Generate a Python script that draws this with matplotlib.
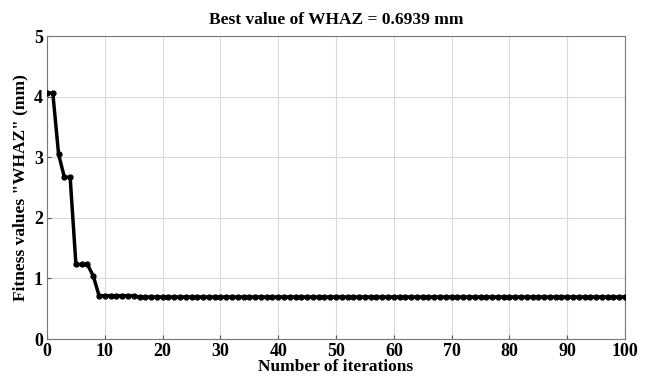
import matplotlib.pyplot as plt
import numpy as np

# fitness history (best WHAZ per iteration)
head = [4.06, 4.06, 3.05, 2.67, 2.67, 1.23, 1.23, 1.23, 1.04, 0.715,
        0.715, 0.715, 0.715, 0.715, 0.715, 0.712]
tail_value = 0.6939
iterations = list(range(0, 101))
fitness = head + [tail_value] * (len(iterations) - len(head))

plt.rcParams['font.family'] = ['Liberation Serif', 'DejaVu Serif']
plt.rcParams['font.weight'] = 'bold'

fig = plt.figure(figsize=(6.46, 3.76), dpi=100)
ax = fig.add_axes([0.0728, 0.0984, 0.8947, 0.8056])

ax.plot(iterations, fitness, color='black', lw=2.5, marker='o', ms=3.5, zorder=3)

ax.set_xlim(0, 100)
ax.set_ylim(0, 5)
ax.set_xticks(np.arange(0, 101, 10))
ax.set_yticks(np.arange(0, 6, 1))
ax.grid(True, color='#d9d9d9', lw=0.8)
ax.tick_params(direction='in', labelsize=13, length=3, color='#555555', pad=3)
for lab in ax.get_xticklabels() + ax.get_yticklabels():
    lab.set_fontweight('bold')
for s in ax.spines.values():
    s.set_linewidth(0.8)
    s.set_color('#777777')

ax.set_xlabel('Number of iterations', fontsize=12.5, fontweight='bold', labelpad=-1)
ax.set_ylabel('Fitness values "WHAZ" (mm)', fontsize=12.5, fontweight='bold', labelpad=4)
ax.set_title('Best value of WHAZ = 0.6939 mm', fontsize=12.5, fontweight='bold', pad=9)

fig.savefig('out.png', dpi=100)
